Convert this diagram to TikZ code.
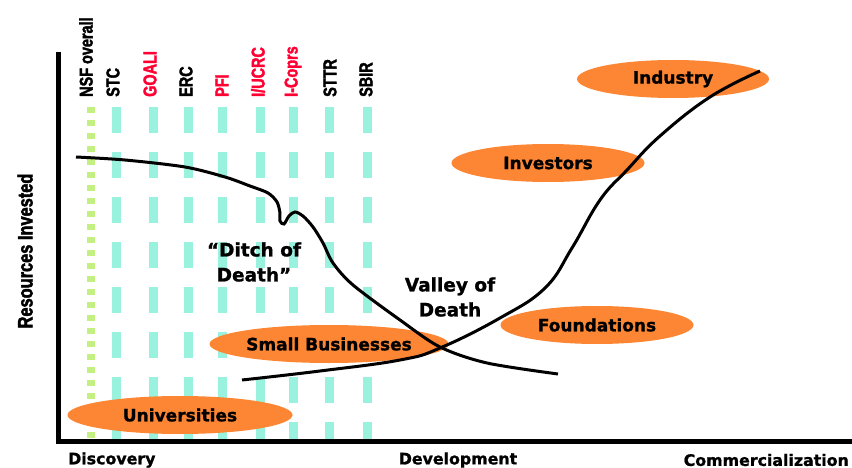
\documentclass[tikz,border=0pt]{standalone}
\usepackage{fontspec}
\setmainfont{DejaVu Sans}[BoldFeatures={FakeBold=1.2}]
\newfontfamily\narrowfont[FakeStretch=0.78,FakeBold=2]{Liberation Sans Bold}
\usetikzlibrary{shapes.geometric}
\definecolor{blobfill}{RGB}{253,134,52}
\definecolor{progteal}{RGB}{153,242,222}
\definecolor{nsfgreen}{RGB}{196,240,130}
\definecolor{progred}{RGB}{255,0,51}
\begin{document}
\begin{tikzpicture}[x=1pt,y=-1pt,
	blob/.style={ellipse, fill=blobfill, inner sep=0pt, minimum height=38pt,
		font=\fontsize{17}{20}\selectfont\bfseries},
	bigtext/.style={align=center, font=\fontsize{18.5}{25}\selectfont\bfseries},
	axistext/.style={inner sep=0pt, font=\fontsize{15.8}{18}\selectfont\bfseries},
	prog/.style={rotate=90, anchor=west, inner sep=0pt,
		font=\narrowfont\fontsize{18.5}{18}\selectfont},
	progbar/.style={progteal, line width=9pt, dash pattern=on 26pt off 19pt},
	curve/.style={line width=3pt}]
				\useasboundingbox (0,0) rectangle (852,468);
				% program columns
				\draw [nsfgreen, line width=8pt, dash pattern=on 6pt off 7pt] (91,107) -- (91,438);
				\draw [progbar] (116,107) -- (116,439);
				\draw [progbar] (153,107) -- (153,439);
				\draw [progbar] (188,107) -- (188,439);
				\draw [progbar] (222,107) -- (222,439);
				\draw [progbar] (260,107) -- (260,439);
				\draw [progbar] (293,107) -- (293,439);
				\draw [progbar] (329,107) -- (329,439);
				\draw [progbar] (367,107) -- (367,439);
				\node [prog] (nsf) at (86,97) {NSF overall};
				\node [prog] (stc) at (113,97) {STC};
				\node [prog, progred] (goali) at (150,97) {GOALI};
				\node [prog] (erc) at (186,97) {ERC};
				\node [prog, progred] (pfi) at (222,97) {PFI};
				\node [prog, progred] (iucrc) at (258,97) {I/UCRC};
				\node [prog, progred] (icorps) at (293,97) {I-Coprs};
				\node [prog] (sttr) at (330,97) {STTR};
				\node [prog] (sbir) at (366,97) {SBIR};
				% axes
				\coordinate (O) at (58,441);
				\coordinate (Y) at (58,52);
				\coordinate (X) at (852,441);
				\draw [line width=5pt] (Y) -- (O) -- (X);
				\node [rotate=90, font=\narrowfont\fontsize{21}{22}\selectfont] (res) at (25,251) {Resources Invested};
				\node [axistext, anchor=west] (disc) at (68,460) {Discovery};
				\node [axistext] (dev) at (458,460) {Development};
				\node [axistext, anchor=east] (comm) at (849,460) {Commercialization};
				% sectors
				\node [blob, minimum width=192pt] (industry) at (673,79) {Industry};
				\node [blob, minimum width=193pt] (investors) at (548,163) {Investors};
				\node [blob, minimum width=193pt] (foundations) at (597,325) {Foundations};
				\node [blob, minimum width=239pt] (smallbiz) at (329,344) {Small Businesses};
				\node [blob, minimum width=225pt] (univ) at (180,415) {Universities};
				% curves
				\draw [curve] plot [smooth, tension=0.5] coordinates {(76,157) (125,160) (185,167) (225,177) (250,186) (268,193) (277,202) (280,213) (280,221) (284,224) (289,216) (295,212) (303,216) (313,227) (323,243) (333,263) (353,285) (400,320) (440,347) (487,363) (558,374)};
				\draw [curve] plot [smooth, tension=0.7] coordinates {(242,380) (320,371) (400,360) (440,348) (500,318) (545,288) (572,248) (600,200) (627,170) (660,136) (710,97) (760,71)};
				\node [bigtext] (ditch) at (254,262) {“Ditch of\\Death”};
				\node [bigtext] (valley) at (450,297) {Valley of\\Death};
			\end{tikzpicture}
\end{document}
